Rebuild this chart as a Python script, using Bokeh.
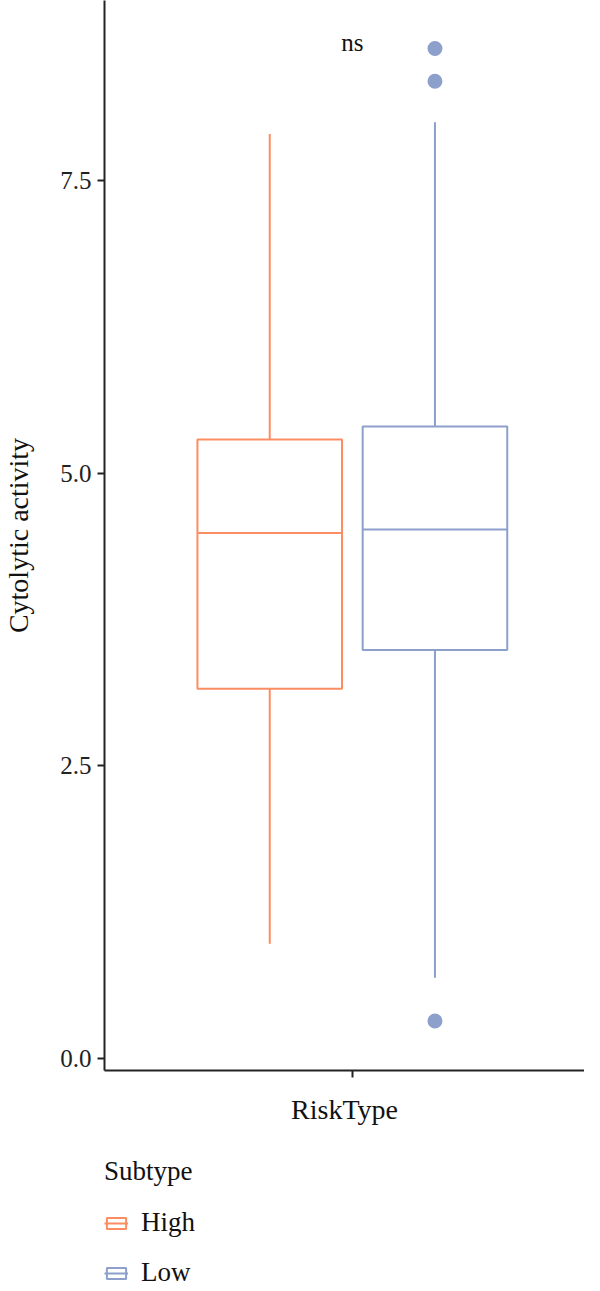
from bokeh.plotting import figure
from bokeh.layouts import column
from bokeh.models import Range1d, FixedTicker, Legend, LegendItem, ColumnDataSource
from bokeh.core.properties import value
from bokeh.embed import file_html
from bokeh.resources import INLINE

groups = ["High", "Low"]
colors = ["#FC8D62", "#8DA0CB"]
q1 = [3.16, 3.49]
median = [4.49, 4.52]
q3 = [5.29, 5.40]
lower = [0.98, 0.69]
upper = [7.90, 8.00]
outlier_group = ["Low", "Low", "Low"]
outlier_value = [8.63, 8.35, 0.32]
y_ticks = [0.0, 2.5, 5.0, 7.5]
y_tick_labels = ["0.0", "2.5", "5.0", "7.5"]
annotation = "ns"

FONT = "Liberation Serif"

offsets = {"High": -0.2, "Low": 0.2}
half = 0.175

p = figure(width=584, height=1140, output_backend="svg", toolbar_location=None,
           x_range=Range1d(0.4, 1.562), y_range=Range1d(-0.1025, 9.04),
           min_border_left=103, min_border_right=0, min_border_top=0, min_border_bottom=70)
p.grid.visible = False
p.outline_line_color = None

for g, c, a, m, b, lo, up in zip(groups, colors, q1, median, q3, lower, upper):
    cx = 1 + offsets[g]
    src = ColumnDataSource(dict(l=[cx - half], r=[cx + half], b=[a], t=[b], m=[m],
                                cx=[cx], lo=[lo], up=[up]))
    p.segment(x0="cx", x1="cx", y0="lo", y1="b", source=src, line_color=c, line_width=2)
    p.segment(x0="cx", x1="cx", y0="t", y1="up", source=src, line_color=c, line_width=2)
    p.quad(left="l", right="r", bottom="b", top="t", source=src,
           fill_color="white", line_color=c, line_width=2)
    p.segment(x0="l", x1="r", y0="m", y1="m", source=src, line_color=c, line_width=2)

ox = [1 + offsets[g] for g in outlier_group]
oc = [colors[groups.index(g)] for g in outlier_group]
p.scatter(x=ox, y=outlier_value, size=15, color=oc, line_color=None)

p.text(x=[1.0], y=[8.68], text=[annotation], text_font=value(FONT),
       text_font_size="25px", text_align="center", text_baseline="middle", text_color="#111111")

# axes
p.yaxis.ticker = FixedTicker(ticks=y_ticks)
p.yaxis.major_label_overrides = {t: s for t, s in zip(y_ticks, y_tick_labels)}
p.xaxis.ticker = FixedTicker(ticks=[1.0])
p.xaxis.major_label_overrides = {1.0: ""}
p.xaxis.axis_label = "RiskType"
p.yaxis.axis_label = "Cytolytic activity"
for ax in (p.xaxis, p.yaxis):
    ax.axis_line_color = "#222222"
    ax.axis_line_width = 2
    ax.major_tick_line_color = "#222222"
    ax.major_tick_line_width = 2
    ax.major_tick_out = 7
    ax.major_tick_in = 0
    ax.minor_tick_out = 0
    ax.minor_tick_in = 0
    ax.major_label_text_font = FONT
    ax.major_label_text_font_size = "25px"
    ax.major_label_text_color = "#222222"
    ax.axis_label_text_font = FONT
    ax.axis_label_text_font_size = "28px"
    ax.axis_label_text_font_style = "normal"
    ax.axis_label_text_color = "#111111"
p.yaxis.major_label_standoff = 6
p.yaxis.axis_label_standoff = 23
p.xaxis.major_label_standoff = 0
p.xaxis.axis_label_standoff = 16

# legend figure
lf = figure(width=584, height=147, output_backend="svg", toolbar_location=None,
            x_range=Range1d(0, 1), y_range=Range1d(0, 1),
            min_border_left=103, min_border_right=0, min_border_top=16, min_border_bottom=0)
lf.axis.visible = False
lf.grid.visible = False
lf.outline_line_color = None
items = []
for g, c in zip(groups, colors):
    es = ColumnDataSource(dict(l=[-10], r=[-9], b=[-10], t=[-9]))
    box = lf.quad(left="l", right="r", bottom="b", top="t", source=es,
                  fill_color="white", line_color=c, line_width=2)
    med = lf.segment(x0="l", x1="r", y0="b", y1="b", source=es, line_color=c, line_width=2)
    items.append(LegendItem(label=g, renderers=[box, med]))

legend = Legend(items=items, title="Subtype", orientation="vertical", location="top_left")
legend.title_text_font = FONT
legend.title_text_font_size = "27px"
legend.title_text_font_style = "normal"
legend.title_text_color = "#111111"
legend.title_standoff = 20
legend.label_text_font = FONT
legend.label_text_font_size = "27px"
legend.label_text_color = "#111111"
legend.glyph_width = 24
legend.glyph_height = 14
legend.label_height = 27
legend.label_standoff = 13
legend.spacing = 19
legend.padding = 0
legend.margin = 0
legend.border_line_color = None
legend.background_fill_alpha = 0
lf.add_layout(legend)

layout = column(p, lf, spacing=0)
open("out.html", "w").write(file_html(layout, INLINE))
